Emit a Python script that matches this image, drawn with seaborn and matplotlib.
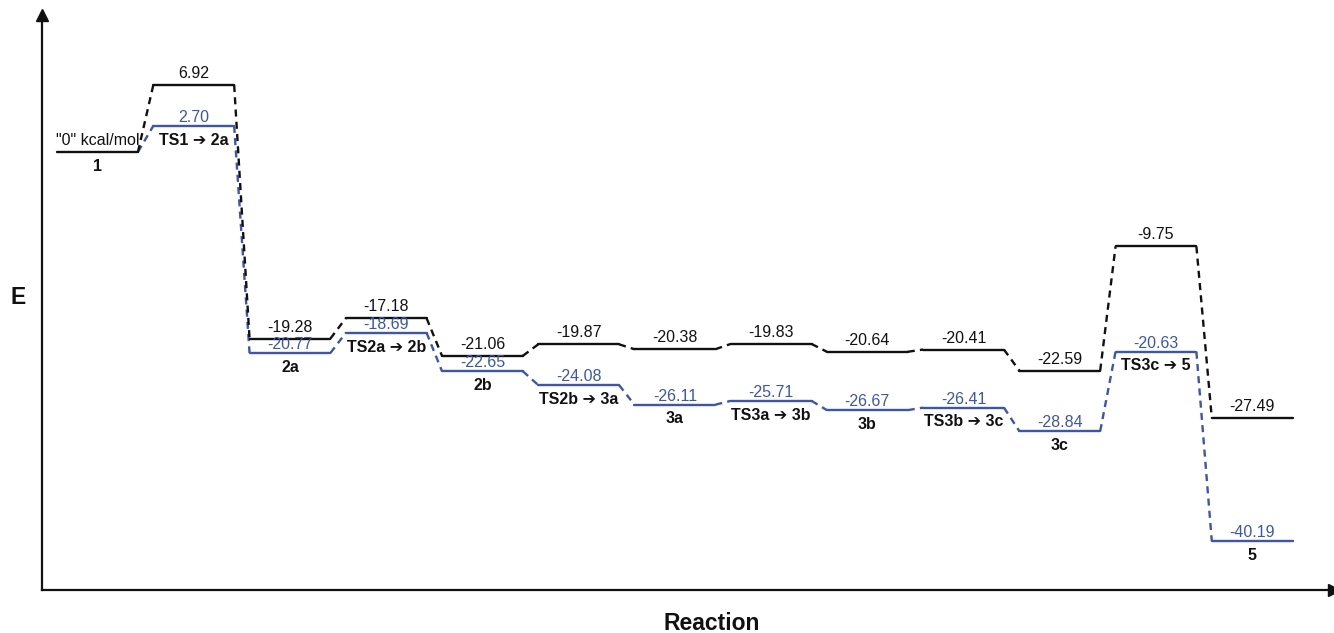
import numpy as np
import pandas as pd
import matplotlib
matplotlib.use("Agg")
import matplotlib.pyplot as plt
import seaborn as sns

# energy levels (kcal/mol)
states = ["1", "TS1 \u2794 2a", "2a", "TS2a \u2794 2b", "2b", "TS2b \u2794 3a", "3a",
          "TS3a \u2794 3b", "3b", "TS3b \u2794 3c", "3c", "TS3c \u2794 5", "5"]
black_vals = [0, 6.92, -19.28, -17.18, -21.06, -19.87, -20.38, -19.83, -20.64, -20.41, -22.59, -9.75, -27.49]
blue_vals = [0, 2.70, -20.77, -18.69, -22.65, -24.08, -26.11, -25.71, -26.67, -26.41, -28.84, -20.63, -40.19]

BLACK = "#111111"
BLUE = "#3c55b0"
hw = 0.42  # half width of a level

sns.set_theme(style="white")
plt.rcParams["font.family"] = ["Liberation Sans", "DejaVu Sans"]

fig = plt.figure(figsize=(13.34, 6.33), dpi=100)
ax = fig.add_axes([42 / 1334, 43 / 633, 1 - 42 / 1334, (590 - 15) / 633])

rows = []
for i in range(len(states)):
    for name, vals in (("blue", blue_vals), ("black", black_vals)):
        if name == "blue" and i == 0:
            continue
        rows.append({"x": i - hw, "y": vals[i], "series": name, "seg": f"{name}{i}"})
        rows.append({"x": i + hw, "y": vals[i], "series": name, "seg": f"{name}{i}"})
df = pd.DataFrame(rows)

for name, col, z in (("blue", BLUE, 2), ("black", BLACK, 3)):
    sub = df[df["series"] == name]
    sns.lineplot(data=sub, x="x", y="y", units="seg", estimator=None, sort=False,
                 color=col, lw=1.7, ax=ax, zorder=z, legend=False)

# dashed connectors
for vals, col, z in ((blue_vals, BLUE, 2), (black_vals, BLACK, 3)):
    for i in range(len(vals) - 1):
        ax.plot([i + hw, i + 1 - hw], [vals[i], vals[i + 1]], color=col, lw=1.7,
                ls=(0, (3, 2.2)), zorder=z)

# value labels
fs = 11.5
for i in range(len(states)):
    if i == 0:
        ax.text(i, 0 + 0.4, '"0" kcal/mol', ha="center", va="bottom", fontsize=fs, color=BLACK)
    else:
        ax.text(i, black_vals[i] + 0.4, f"{black_vals[i]:.2f}", ha="center", va="bottom",
                fontsize=fs, color=BLACK)
        ax.text(i, blue_vals[i] + 0.1, f"{blue_vals[i]:.2f}", ha="center", va="bottom",
                fontsize=fs, color=BLUE)
    low = min(black_vals[i], blue_vals[i])
    ax.text(i, low - 0.7, states[i], ha="center", va="top", fontsize=fs,
            fontweight="bold", color=BLACK)

ax.set_xlim(-0.577, 12.85)
ax.set_ylim(-45.25, 14.15)
ax.set_xticks([])
ax.set_yticks([])
for s in ["top", "right"]:
    ax.spines[s].set_visible(False)
for s in ["left", "bottom"]:
    ax.spines[s].set_color(BLACK)
    ax.spines[s].set_linewidth(1.6)
ax.plot(0, 1, "^", color=BLACK, ms=9, transform=ax.transAxes, clip_on=False)
ax.plot(1, 0, ">", color=BLACK, ms=9, transform=ax.transAxes, clip_on=False)
ax.set_xlabel("")
ax.set_ylabel("")
fig.text(18 / 1334, 1 - 297 / 633, "E", ha="center", va="center", fontsize=16.5,
         fontweight="bold", color=BLACK)
fig.text(712 / 1334, 1 - 624 / 633, "Reaction", ha="center", va="center", fontsize=16.5,
         fontweight="bold", color=BLACK)

fig.savefig("out.png", dpi=100)
